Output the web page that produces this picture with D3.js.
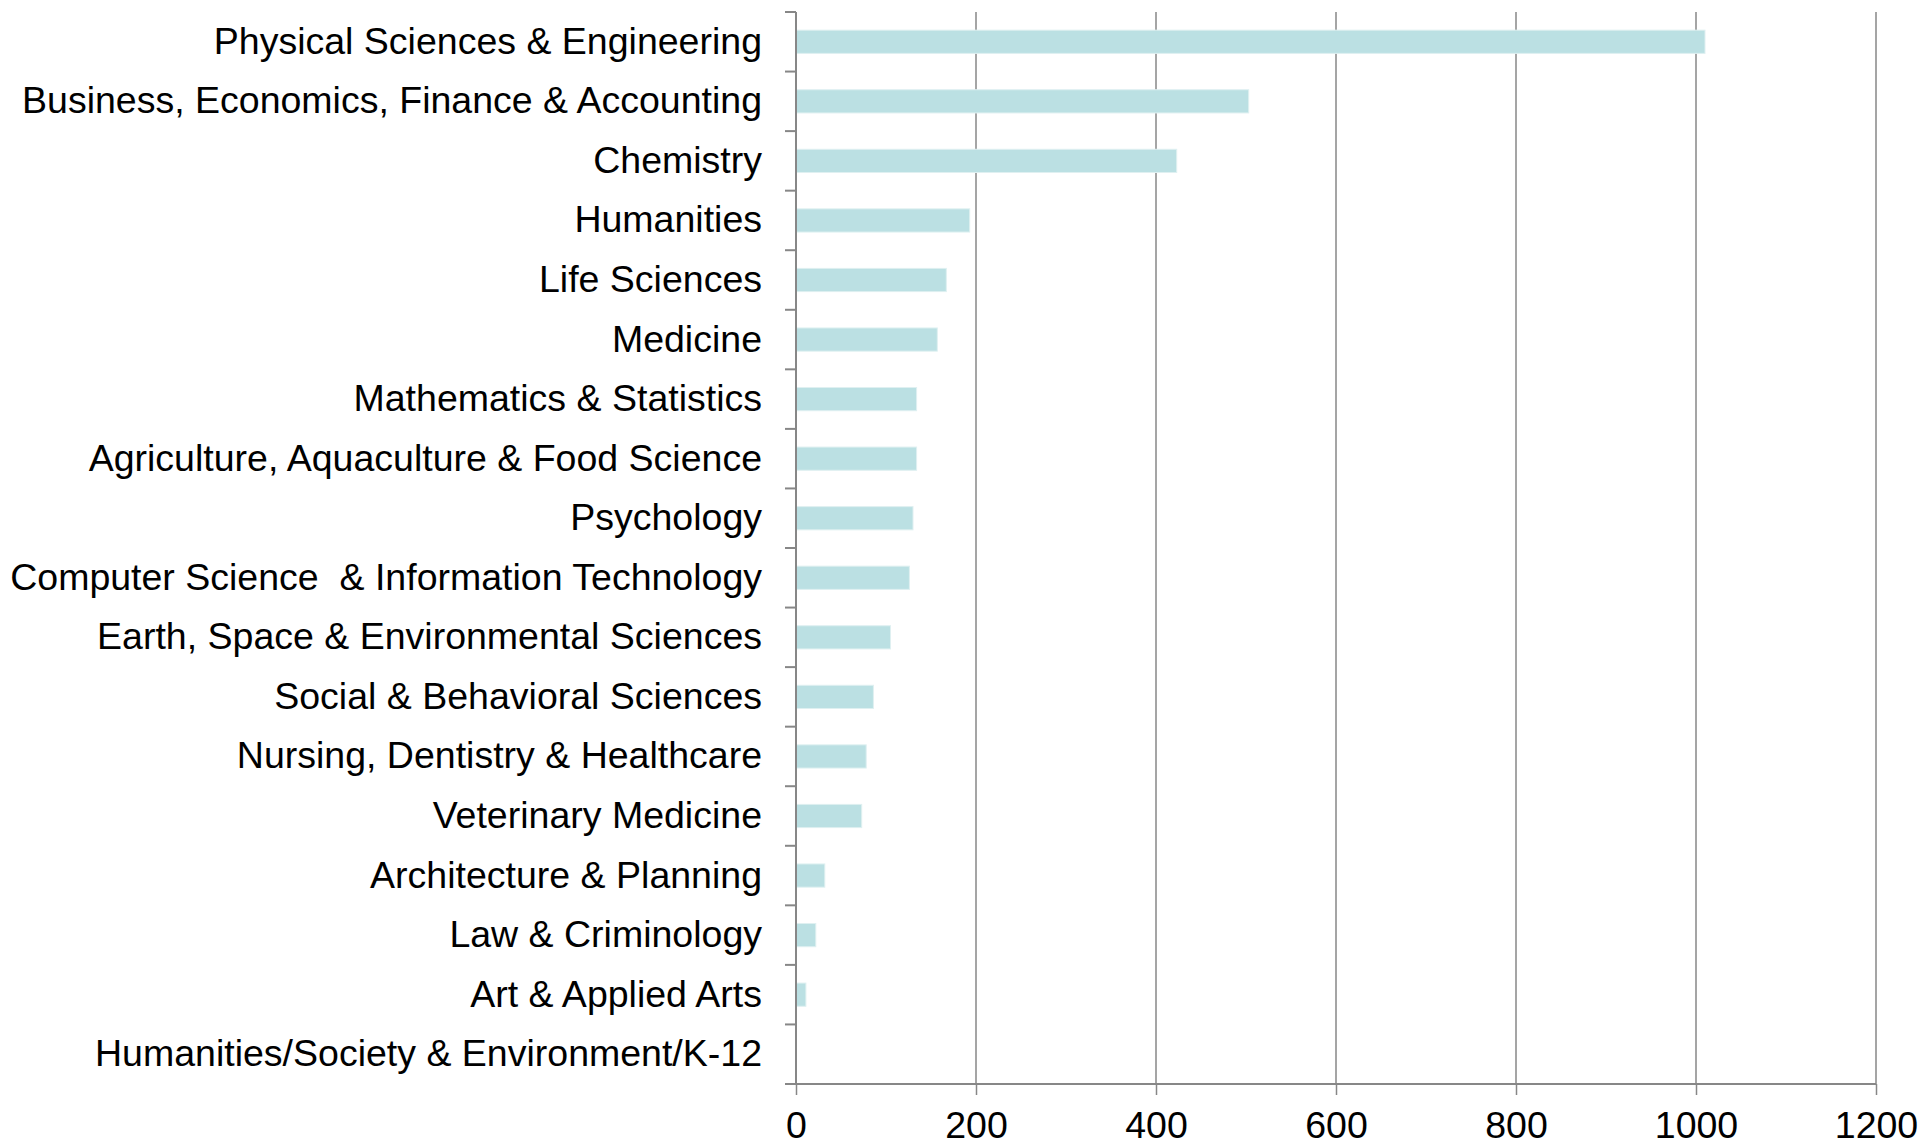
<!DOCTYPE html>
<html>
<head>
<meta charset="utf-8">
<script src="https://cdn.jsdelivr.net/npm/d3@7"></script>
<style>
  body { margin: 0; background: #fff; }
  text { font-family: "Liberation Sans", Arial, sans-serif; fill: #000; }
</style>
</head>
<body>
<svg id="chart" width="1920" height="1146"></svg>
<script>
const categories = [
    "Physical Sciences & Engineering",
    "Business, Economics, Finance & Accounting",
    "Chemistry",
    "Humanities",
    "Life Sciences",
    "Medicine",
    "Mathematics & Statistics",
    "Agriculture, Aquaculture & Food Science",
    "Psychology",
    "Computer Science  & Information Technology",
    "Earth, Space & Environmental Sciences",
    "Social & Behavioral Sciences",
    "Nursing, Dentistry & Healthcare",
    "Veterinary Medicine",
    "Architecture & Planning",
    "Law & Criminology",
    "Art & Applied Arts",
    "Humanities/Society & Environment/K-12"
]
const counts = [1010, 503, 423, 193, 167, 157, 134, 134, 130, 126, 105, 86, 78, 73, 32, 22, 11, 0]
const xTicks = [0, 200, 400, 600, 800, 1000, 1200]

let svg = d3.select("#chart")
let plot = { left: 796, right: 1876, top: 12, bottom: 1084 }
let gridColor = "#878787"
let fontSize = "37.5px"

let xScale = d3.scaleLinear()
    .domain([0, 1200])
    .range([plot.left, plot.right])

let yScale = d3.scaleBand()
    .domain(categories)
    .range([plot.top, plot.bottom])
    .padding(0)

let step = yScale.step()
let barH = step * 0.39

// vertical gridlines
svg.append("g")
    .selectAll("line")
    .data(xTicks.slice(1))
    .enter().append("line")
        .attr("x1", d => xScale(d))
        .attr("x2", d => xScale(d))
        .attr("y1", plot.top)
        .attr("y2", plot.bottom)
        .style("stroke", gridColor)
        .style("stroke-width", 1.5)

// bars
svg.append("g")
    .selectAll("rect")
    .data(categories.map((c, i) => ({ name: c, value: counts[i] })))
    .enter().append("rect")
        .attr("x", xScale(0))
        .attr("y", d => yScale(d.name) + (step - barH) / 2)
        .attr("width", d => xScale(d.value) - xScale(0))
        .attr("height", barH)
        .style("fill", "#bbe0e3")
        .style("stroke", d => d.value > 0 ? "#dff0f1" : "none")
        .style("stroke-width", 1)

// bottom axis
let xAxis = d3.axisBottom(xScale)
    .tickValues(xTicks)
    .tickFormat(d3.format("d"))
    .tickSize(11)
    .tickSizeOuter(0)
    .tickPadding(16)

let gX = svg.append("g")
    .attr("transform", "translate(0," + plot.bottom + ")")
    .call(xAxis)
gX.select(".domain")
    .attr("d", "M" + (plot.left - 11) + ",0H" + plot.right)
    .style("stroke", gridColor)
    .style("stroke-width", 2)
gX.selectAll(".tick line").style("stroke", gridColor).style("stroke-width", 1.5)
gX.selectAll(".tick text")
    .style("font-size", fontSize)
    .style("font-family", "'Liberation Sans', Arial, sans-serif")
    .attr("fill", "#000")

// left axis: ticks between categories, Excel style
let boundaries = categories.map(c => yScale(c)).concat([plot.bottom])
svg.append("line")
    .attr("x1", plot.left).attr("x2", plot.left)
    .attr("y1", plot.top).attr("y2", plot.bottom)
    .style("stroke", gridColor)
    .style("stroke-width", 2)
svg.append("g")
    .selectAll("line")
    .data(boundaries)
    .enter().append("line")
        .attr("x1", plot.left - 11)
        .attr("x2", plot.left)
        .attr("y1", d => d)
        .attr("y2", d => d)
        .style("stroke", gridColor)
        .style("stroke-width", 2)

svg.append("g")
    .selectAll("text")
    .data(categories)
    .enter().append("text")
        .attr("x", 762)
        .attr("y", d => yScale(d) + step / 2)
        .attr("dy", "0.32em")
        .style("text-anchor", "end")
        .style("font-size", fontSize)
        .style("white-space", "pre")
        .text(d => d)
</script>
</body>
</html>
